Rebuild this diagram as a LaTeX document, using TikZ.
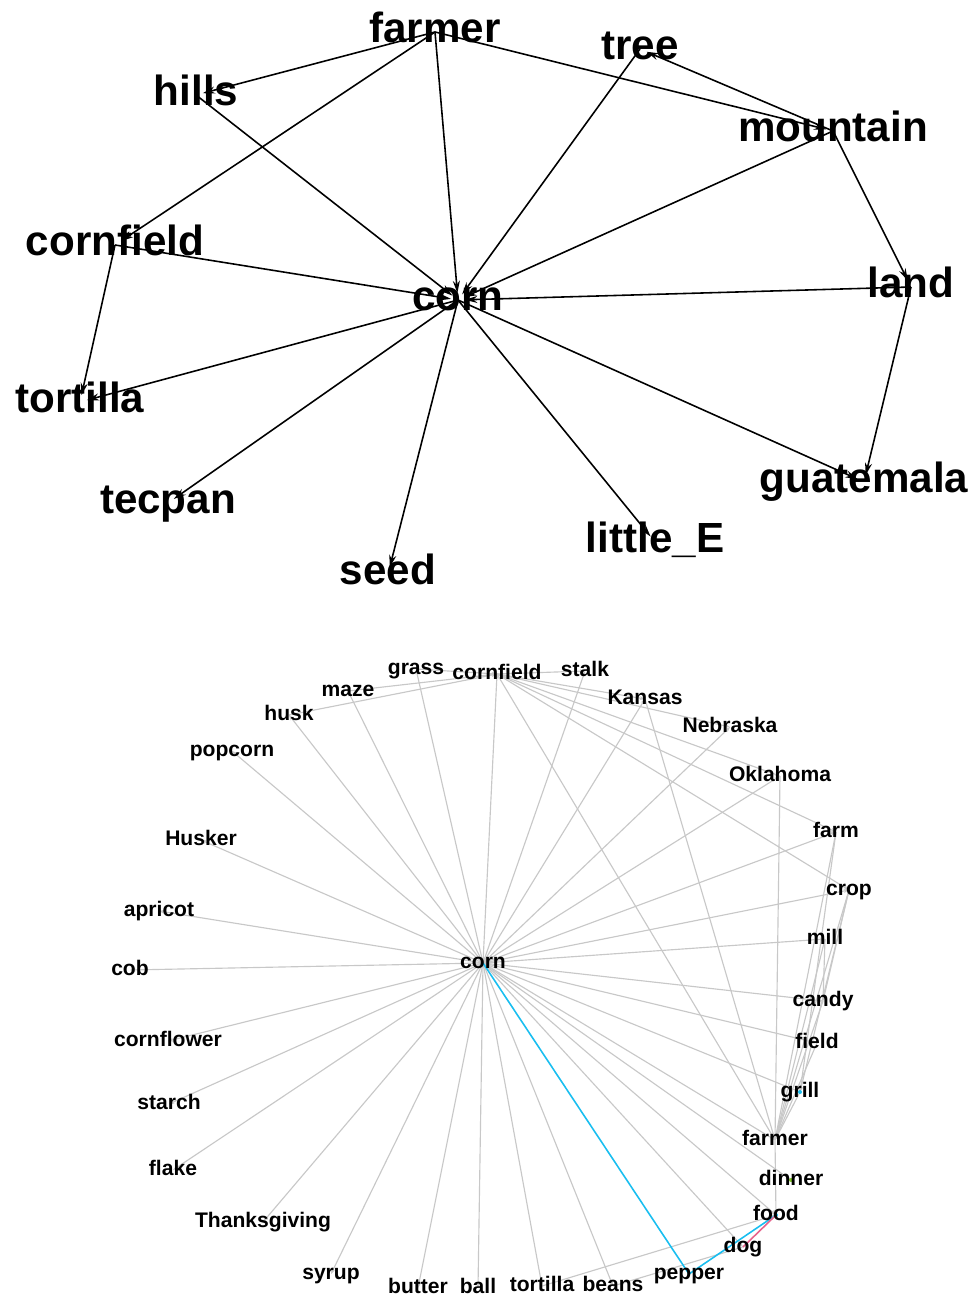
\documentclass[tikz,border=0pt]{standalone}
\usepackage{fontspec}
\setmainfont{Liberation Sans}
\usetikzlibrary{arrows.meta}

\definecolor{edgegray}{RGB}{200,200,200}
\definecolor{linkblue}{RGB}{25,190,240}
\definecolor{linkpink}{RGB}{230,100,140}
\definecolor{dotgreen}{RGB}{130,200,40}

\pgfdeclarelayer{behind}
\pgfsetlayers{behind,main}

\begin{document}
\begin{tikzpicture}[x=0.02cm,y=-0.02cm,
    bigword/.style={font=\fontsize{24}{24}\selectfont\bfseries, inner sep=0pt, text height=17.5pt, text depth=5pt},
    smallword/.style={font=\fontsize{12}{12}\selectfont\bfseries, inner sep=0pt, text height=8.8pt, text depth=2.5pt},
    topedge/.style={-{Stealth[length=7pt,width=4pt]}, line width=0.9pt, shorten >=4pt},
    botedge/.style={-{Stealth[length=3pt,width=2.2pt]}, draw=edgegray, line width=0.65pt},
  ]
  \useasboundingbox (0,0) rectangle (974,1298);

  % upper graph
  \node[bigword] (farmer) at (435,32) {farmer};
  \node[bigword] (hills) at (196,95) {hills};
  \node[bigword] (tree) at (640,49) {tree};
  \node[bigword] (mountain) at (833,131) {mountain};
  \node[bigword] (cornfield) at (115,245) {cornfield};
  \node[bigword] (land) at (911,287) {land};
  \node[bigword] (corn) at (458,300) {corn};
  \node[bigword] (tortilla) at (80,402) {tortilla};
  \node[bigword] (tecpan) at (168,503) {tecpan};
  \node[bigword] (seed) at (388,574) {seed};
  \node[bigword] (littleE) at (655,542) {little\_E};
  \node[bigword] (guatemala) at (864,482) {guatemala};

  \draw[topedge] (farmer.center) -- (hills.center);
  \draw[topedge] (farmer.center) -- (cornfield.center);
  \draw[topedge] (farmer.center) -- (corn.center);
  \draw[topedge] (farmer.center) -- (mountain.center);
  \draw[topedge] (hills.center) -- (corn.center);
  \draw[topedge] (tree.center) -- (corn.center);
  \draw[topedge] (mountain.center) -- (tree.center);
  \draw[topedge] (mountain.center) -- (corn.center);
  \draw[topedge] (mountain.center) -- (land.center);
  \draw[topedge] (land.center) -- (corn.center);
  \draw[topedge] (land.center) -- (guatemala.center);
  \draw[topedge] (cornfield.center) -- (corn.center);
  \draw[topedge] (cornfield.center) -- (tortilla.center);
  \draw[topedge] (corn.center) -- (tortilla.center);
  \draw[topedge] (corn.center) -- (tecpan.center);
  \draw[topedge] (corn.center) -- (seed.center);
  \draw[topedge] (corn.center) -- (littleE.center);
  \draw[topedge] (corn.center) -- (guatemala.center);

  % lower graph
  \node[smallword] (bcorn) at (483,963) {corn};
  \node[smallword] (bgrass) at (416,669) {grass};
  \node[smallword] (bcornfield) at (497,674) {cornfield};
  \node[smallword] (bstalk) at (585,671) {stalk};
  \node[smallword] (bKansas) at (645,699) {Kansas};
  \node[smallword] (bNebraska) at (730,727) {Nebraska};
  \node[smallword] (bOklahoma) at (780,776) {Oklahoma};
  \node[smallword] (bfarm) at (836,832) {farm};
  \node[smallword] (bcrop) at (849,890) {crop};
  \node[smallword] (bmill) at (825,939) {mill};
  \node[smallword] (bcandy) at (823,1001) {candy};
  \node[smallword] (bfield) at (817,1043) {field};
  \node[smallword] (bgrill) at (800,1092) {grill};
  \node[smallword] (bfarmer) at (775,1140) {farmer};
  \node[smallword] (bdinner) at (791,1180) {dinner};
  \node[smallword] (bfood) at (776,1215) {food};
  \node[smallword] (bdog) at (743,1247) {dog};
  \node[smallword] (bpepper) at (689,1274) {pepper};
  \node[smallword] (bbeans) at (613,1286) {beans};
  \node[smallword] (btortilla) at (542,1286) {tortilla};
  \node[smallword] (bball) at (478,1288) {ball};
  \node[smallword] (bbutter) at (418,1288) {butter};
  \node[smallword] (bsyrup) at (331,1274) {syrup};
  \node[smallword] (bThanksgiving) at (263,1222) {Thanksgiving};
  \node[smallword] (bflake) at (173,1170) {flake};
  \node[smallword] (bstarch) at (169,1104) {starch};
  \node[smallword] (bcornflower) at (168,1041) {cornflower};
  \node[smallword] (bcob) at (130,970) {cob};
  \node[smallword] (bapricot) at (159,911) {apricot};
  \node[smallword] (bHusker) at (201,840) {Husker};
  \node[smallword] (bpopcorn) at (232,751) {popcorn};
  \node[smallword] (bhusk) at (289,715) {husk};
  \node[smallword] (bmaze) at (348,691) {maze};

  \begin{pgfonlayer}{behind}
  \foreach \w in {grass,cornfield,stalk,Kansas,Nebraska,Oklahoma,farm,crop,mill,candy,field,grill,farmer,dinner,food,dog,beans,tortilla,ball,butter,syrup,Thanksgiving,flake,starch,cornflower,cob,apricot,Husker,popcorn,husk,maze}
    \draw[botedge] (bcorn.center) -- (b\w.center);

  \foreach \w in {grass,maze,husk}
    \draw[botedge] (b\w.center) -- (bcornfield.center);
  \foreach \w in {stalk,Kansas,Nebraska,Oklahoma,farm,crop,farmer}
    \draw[botedge] (bcornfield.center) -- (b\w.center);
  \foreach \w in {Kansas,Oklahoma,farm,crop,mill,candy,field,grill}
    \draw[botedge] (b\w.center) -- (bfarmer.center);
  \draw[botedge] (bcrop.center) -- (bcandy.center);
  \draw[botedge] (bmill.center) -- (bcandy.center);
  \draw[botedge] (bfarm.center) -- (bgrill.center);
  \draw[botedge] (bcrop.center) -- (bgrill.center);
  \draw[botedge] (bfarmer.center) -- (bfood.center);
  \draw[botedge] (btortilla.center) -- (bfood.center);
  \draw[botedge] (bbeans.center) -- (bdog.center);

  \draw[linkblue, line width=0.9pt] (bcorn.center) -- (bpepper.center) -- (bfood.center);
  \draw[linkpink, line width=0.9pt] (bdog.center) -- (bfood.center);
  \fill[linkblue] (bgrill.center) circle (2);
  \fill[linkblue] (bfood.center) circle (2);
  \fill[dotgreen] (bdinner.center) circle (2);
  \end{pgfonlayer}
\end{tikzpicture}
\end{document}
